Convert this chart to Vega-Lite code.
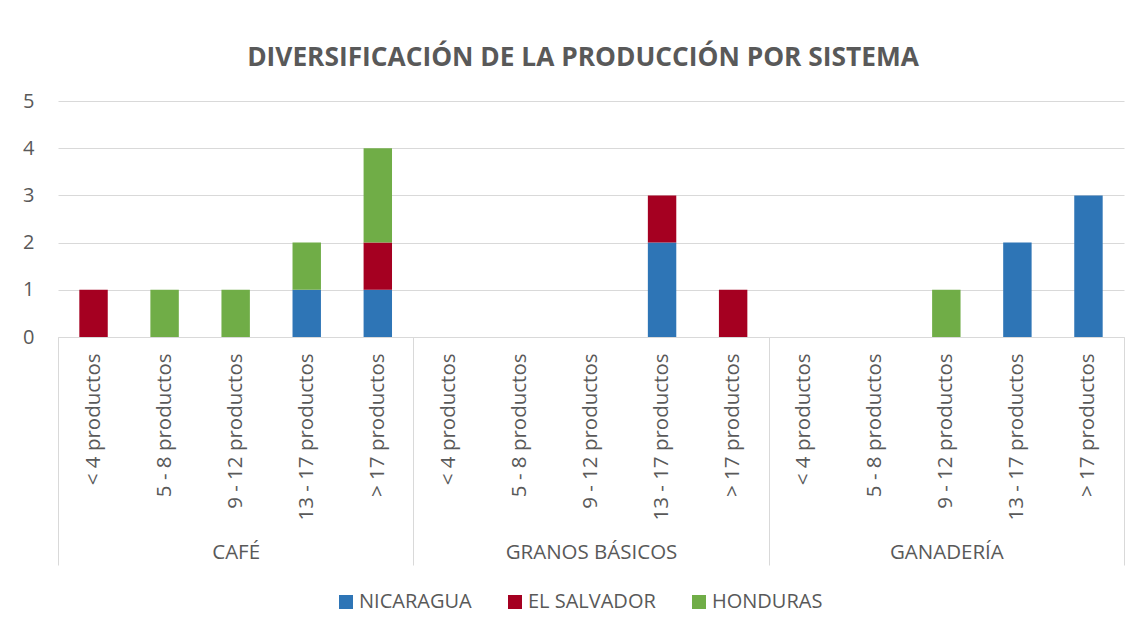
{
  "$schema": "https://vega.github.io/schema/vega-lite/v6.json",
  "width": 1066,
  "height": 236,
  "padding": {"left": 22, "top": 44, "right": 13, "bottom": 5},
  "background": "white",
  "title": {
    "text": "DIVERSIFICACIÓN DE LA PRODUCCIÓN POR SISTEMA",
    "font": "Open Sans",
    "fontSize": 26.3,
    "fontWeight": "bold",
    "color": "#595959",
    "anchor": "middle",
    "frame": "group",
    "dx": -8,
    "offset": 20
  },
  "data": {
    "values": [
      {"clave": "CAFÉ|< 4 productos", "sistema": "CAFÉ", "categoria": "< 4 productos", "pais": "EL SALVADOR", "orden": 2, "valor": 1},
      {"clave": "CAFÉ|5 - 8 productos", "sistema": "CAFÉ", "categoria": "5 - 8 productos", "pais": "HONDURAS", "orden": 3, "valor": 1},
      {"clave": "CAFÉ|9 - 12 productos", "sistema": "CAFÉ", "categoria": "9 - 12 productos", "pais": "HONDURAS", "orden": 3, "valor": 1},
      {"clave": "CAFÉ|13 - 17 productos", "sistema": "CAFÉ", "categoria": "13 - 17 productos", "pais": "NICARAGUA", "orden": 1, "valor": 1},
      {"clave": "CAFÉ|13 - 17 productos", "sistema": "CAFÉ", "categoria": "13 - 17 productos", "pais": "HONDURAS", "orden": 3, "valor": 1},
      {"clave": "CAFÉ|> 17 productos", "sistema": "CAFÉ", "categoria": "> 17 productos", "pais": "NICARAGUA", "orden": 1, "valor": 1},
      {"clave": "CAFÉ|> 17 productos", "sistema": "CAFÉ", "categoria": "> 17 productos", "pais": "EL SALVADOR", "orden": 2, "valor": 1},
      {"clave": "CAFÉ|> 17 productos", "sistema": "CAFÉ", "categoria": "> 17 productos", "pais": "HONDURAS", "orden": 3, "valor": 2},
      {"clave": "GRANOS BÁSICOS|13 - 17 productos", "sistema": "GRANOS BÁSICOS", "categoria": "13 - 17 productos", "pais": "NICARAGUA", "orden": 1, "valor": 2},
      {"clave": "GRANOS BÁSICOS|13 - 17 productos", "sistema": "GRANOS BÁSICOS", "categoria": "13 - 17 productos", "pais": "EL SALVADOR", "orden": 2, "valor": 1},
      {"clave": "GRANOS BÁSICOS|> 17 productos", "sistema": "GRANOS BÁSICOS", "categoria": "> 17 productos", "pais": "EL SALVADOR", "orden": 2, "valor": 1},
      {"clave": "GANADERÍA|9 - 12 productos", "sistema": "GANADERÍA", "categoria": "9 - 12 productos", "pais": "HONDURAS", "orden": 3, "valor": 1},
      {"clave": "GANADERÍA|13 - 17 productos", "sistema": "GANADERÍA", "categoria": "13 - 17 productos", "pais": "NICARAGUA", "orden": 1, "valor": 2},
      {"clave": "GANADERÍA|> 17 productos", "sistema": "GANADERÍA", "categoria": "> 17 productos", "pais": "NICARAGUA", "orden": 1, "valor": 3}
    ]
  },
  "layer": [
    {
      "mark": {"type": "bar", "width": {"band": 0.4}},
      "encoding": {
        "x": {
          "field": "clave",
          "type": "nominal",
          "scale": {
            "domain": [
              "CAFÉ|< 4 productos", "CAFÉ|5 - 8 productos", "CAFÉ|9 - 12 productos", "CAFÉ|13 - 17 productos", "CAFÉ|> 17 productos",
              "GRANOS BÁSICOS|< 4 productos", "GRANOS BÁSICOS|5 - 8 productos", "GRANOS BÁSICOS|9 - 12 productos", "GRANOS BÁSICOS|13 - 17 productos", "GRANOS BÁSICOS|> 17 productos",
              "GANADERÍA|< 4 productos", "GANADERÍA|5 - 8 productos", "GANADERÍA|9 - 12 productos", "GANADERÍA|13 - 17 productos", "GANADERÍA|> 17 productos"
            ],
            "paddingInner": 0,
            "paddingOuter": 0
          },
          "axis": {
            "orient": "bottom",
            "title": null,
            "labelExpr": "split(datum.value, '|')[1]",
            "labelAngle": -90,
            "labelAlign": "right",
            "labelBaseline": "middle",
            "labelPadding": 16,
            "labelFont": "Open Sans",
            "labelFontSize": 20.5,
            "labelColor": "#595959",
            "ticks": false,
            "domain": true,
            "domainColor": "#D9D9D9",
            "domainWidth": 1,
            "grid": false
          }
        },
        "y": {
          "field": "valor",
          "type": "quantitative",
          "stack": "zero",
          "scale": {"domain": [0, 5], "nice": false},
          "axis": {
            "title": null,
            "values": [0, 1, 2, 3, 4, 5],
            "domain": false,
            "ticks": false,
            "grid": true,
            "gridColor": "#D9D9D9",
            "gridWidth": 1,
            "labelPadding": 24,
            "labelFont": "Open Sans",
            "labelFontSize": 20,
            "labelColor": "#595959"
          }
        },
        "color": {
          "field": "pais",
          "type": "nominal",
          "scale": {
            "domain": ["NICARAGUA", "EL SALVADOR", "HONDURAS"],
            "range": ["#2E75B6", "#A50021", "#70AD47"]
          },
          "legend": {
            "title": null,
            "orient": "none",
            "legendX": 278,
            "legendY": 491,
            "direction": "horizontal",
            "symbolType": "square",
            "symbolSize": 196,
            "symbolStrokeWidth": 0,
            "labelFont": "Open Sans",
            "labelFontSize": 20,
            "labelColor": "#595959",
            "labelOffset": 3,
            "columnPadding": 33,
            "padding": 0
          }
        },
        "order": {"field": "orden", "type": "quantitative", "sort": "ascending"}
      }
    },
    {
      "mark": {"type": "bar", "opacity": 0},
      "encoding": {
        "x": {
          "field": "sistema",
          "type": "nominal",
          "scale": {
            "domain": ["CAFÉ", "GRANOS BÁSICOS", "GANADERÍA"],
            "paddingInner": 0,
            "paddingOuter": 0
          },
          "axis": {
            "orient": "bottom",
            "title": null,
            "labelAngle": 0,
            "labelAlign": "center",
            "labelBaseline": "alphabetic",
            "labelPadding": -7,
            "labelFont": "Open Sans",
            "labelFontSize": 20.5,
            "labelColor": "#595959",
            "ticks": true,
            "tickBand": "extent",
            "tickSize": 228,
            "tickColor": "#D9D9D9",
            "tickWidth": 1,
            "domain": false,
            "grid": false
          }
        }
      }
    }
  ],
  "resolve": {"scale": {"x": "independent"}},
  "config": {
    "view": {"stroke": null},
    "axis": {"labelFont": "Open Sans"}
  }
}
